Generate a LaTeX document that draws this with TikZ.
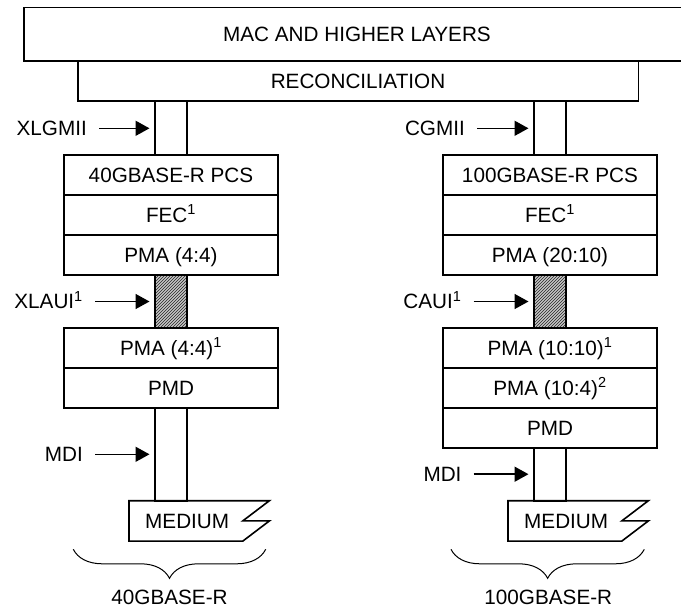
\documentclass[tikz,border=0pt]{standalone}
\usepackage{fontspec}
\setmainfont{Liberation Sans}
\usetikzlibrary{positioning,arrows.meta,patterns,decorations.pathreplacing}

\begin{document}
\begin{tikzpicture}[
  x=1pt, y=-1pt,
  node distance=0pt,
  every node/.style={font=\fontsize{20.7}{24}\selectfont, text height=14.8pt, text depth=0pt},
  layer/.style={rectangle, draw, line width=1.6pt, outer sep=0pt, inner sep=0pt},
  stackbox/.style={layer, minimum width=214pt, minimum height=40pt},
  pipe/.style={layer, minimum width=32pt},
  hatched/.style={preaction={fill=gray!45}, pattern=north east lines, pattern color=black!85},
  medium/.style={inner sep=0pt, minimum height=40pt, text width=140pt, align=left},
  lbl/.style={inner sep=0pt, anchor=east},
  arr/.style={-{Triangle[length=14pt,width=15pt]}, line width=1.6pt, shorten <=12pt, shorten >=5.5pt},
  brace/.style={decorate, decoration={brace, mirror, amplitude=29pt}, line width=1pt}
]
\useasboundingbox (0,0) rectangle (681,608);

\node[layer, minimum width=666pt, minimum height=53.7pt, anchor=north west] (mac) at (24,7.3)
  {MAC AND HIGHER LAYERS};
\node[layer, minimum width=560.6pt, minimum height=39.7pt, anchor=north west] (recon) at (77.7,61)
  {RECONCILIATION};

\node[stackbox, anchor=north] (pcsA) at (171,155) {40GBASE-R PCS};
\node[stackbox, below=of pcsA] (fecA) {FEC\textsuperscript{1}};
\node[stackbox, below=of fecA] (pmaA) {PMA (4:4)};
\node[pipe, minimum height=54.3pt, above=of pcsA] (xlgmiiP) {};
\node[pipe, hatched, minimum height=52.7pt, below=of pmaA] (xlauiP) {};
\node[stackbox, below=of xlauiP] (pmaA2) {PMA (4:4)\textsuperscript{1}};
\node[stackbox, below=of pmaA2] (pmdA) {PMD};
\node[pipe, minimum height=93pt, below=of pmdA] (mdiA) {};
\node[medium, anchor=north west, xshift=-26pt] (medA) at (mdiA.south west) {\hspace*{16pt}MEDIUM};

\node[stackbox, anchor=north] (pcsB) at (550,155) {100GBASE-R PCS};
\node[stackbox, below=of pcsB] (fecB) {FEC\textsuperscript{1}};
\node[stackbox, below=of fecB] (pmaB) {PMA (20:10)};
\node[pipe, minimum height=54.3pt, above=of pcsB] (cgmiiP) {};
\node[pipe, hatched, minimum height=52.7pt, below=of pmaB] (cauiP) {};
\node[stackbox, below=of cauiP] (pmaB2) {PMA (10:10)\textsuperscript{1}};
\node[stackbox, below=of pmaB2] (pmaB3) {PMA (10:4)\textsuperscript{2}};
\node[stackbox, below=of pmaB3] (pmdB) {PMD};
\node[pipe, minimum height=53pt, below=of pmdB] (mdiB) {};
\node[medium, anchor=north west, xshift=-26pt] (medB) at (mdiB.south west) {\hspace*{16pt}MEDIUM};

\foreach \m in {medA,medB}
  \draw[line width=1.6pt] (\m.north west) -- (\m.north east) -- ([xshift=-26.6pt]\m.east)
    -- (\m.east) -- ([xshift=-26.6pt]\m.south east) -- (\m.south west) -- cycle;

\node[lbl] (xlgmiiL) at (87,128.3) {XLGMII};
\node[lbl] (xlauiL) at (83,301.5) {XLAUI\textsuperscript{1}};
\node[lbl] (mdiAL) at (83,454.3) {MDI};
\node[lbl] (cgmiiL) at (465,128.3) {CGMII};
\node[lbl] (cauiL) at (461.7,301.5) {CAUI\textsuperscript{1}};
\node[lbl] (mdiBL) at (461.7,474.2) {MDI};

\draw[arr] (xlgmiiL.east) -- (xlgmiiL.east -| xlgmiiP.west);
\draw[arr] (xlauiL.east) -- (xlauiL.east -| xlauiP.west);
\draw[arr] (mdiAL.east) -- (mdiAL.east -| mdiA.west);
\draw[arr] (cgmiiL.east) -- (cgmiiL.east -| cgmiiP.west);
\draw[arr] (cauiL.east) -- (cauiL.east -| cauiP.west);
\draw[arr] (mdiBL.east) -- (mdiBL.east -| mdiB.west);

\coordinate (braceA1) at (73.3,549.3);
\coordinate (braceA2) at (265.7,549.3);
\coordinate (braceB1) at (451,549.3);
\coordinate (braceB2) at (644.3,549.3);
\draw[brace] (braceA1) -- (braceA2);
\draw[brace] (braceB1) -- (braceB2);
\node (phyA) at (169.5,596.7) {40GBASE-R};
\node (phyB) at (548.3,596.7) {100GBASE-R};
\end{tikzpicture}
\end{document}
